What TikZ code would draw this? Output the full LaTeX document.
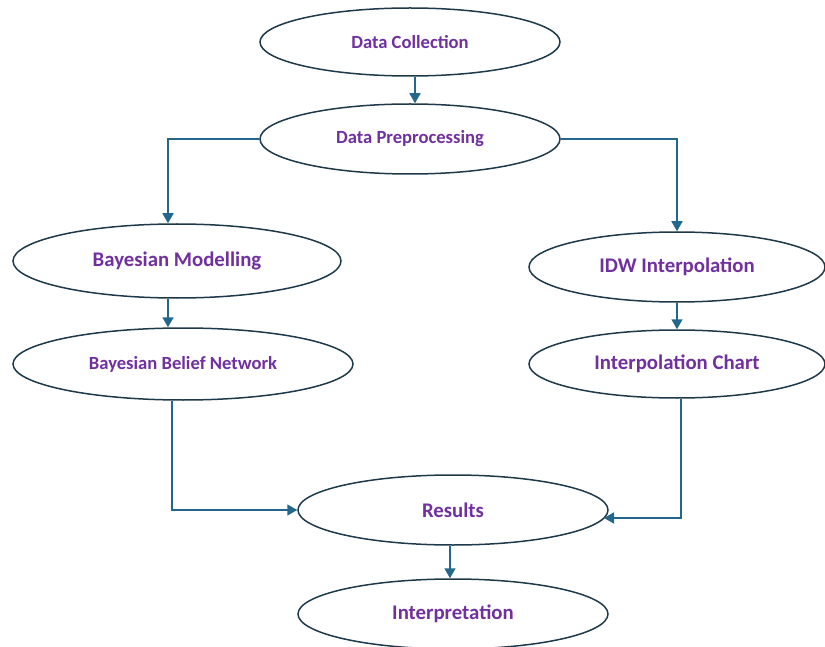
\documentclass[tikz,border=0pt]{standalone}
\usepackage{fontspec}
\setmainfont{Carlito}
\usetikzlibrary{shapes.geometric,arrows.meta}
\definecolor{txtpurple}{HTML}{7030A0}
\definecolor{edgecol}{HTML}{1E3A4A}
\definecolor{arrcol}{HTML}{23688C}
\tikzset{
  stage/.style={ellipse, draw=edgecol, line width=1.5pt, fill=white, inner sep=0pt,
    text=txtpurple, font=\bfseries},
  small/.style={font=\bfseries\fontsize{18.6}{20}\selectfont},
  big/.style={font=\bfseries\fontsize{20.8}{22}\selectfont},
  flow/.style={draw=arrcol, line width=1.6pt, -{Triangle[width=11pt,length=10pt]}},
}
\begin{document}
\begin{tikzpicture}[x=1pt,y=-1pt]
\useasboundingbox (0,0) rectangle (825,647);
\node[stage, small, minimum width=300pt, minimum height=68pt] (dc) at (410,42) {Data Collection};
\node[stage, small, minimum width=300pt, minimum height=70pt] (dp) at (410,139) {Data Preprocessing};
\node[stage, big, minimum width=328pt, minimum height=74pt] (bm) at (177,261) {Bayesian Modelling};
\node[stage, small, minimum width=340pt, minimum height=72pt] (bbn) at (183,364) {Bayesian Belief Network};
\node[stage, big, minimum width=296pt, minimum height=70pt] (idw) at (677,267) {IDW Interpolation};
\node[stage, big, minimum width=296pt, minimum height=68pt] (ic) at (677,364) {Interpolation Chart};
\node[stage, big, minimum width=310pt, minimum height=70pt] (res) at (453,510) {Results};
\node[stage, big, minimum width=310pt, minimum height=70pt] (int) at (453,614) {Interpretation};
\coordinate (xl) at (168,0);
\coordinate (xb) at (172,0);
\coordinate (xr) at (681,0);
\coordinate (resr) at (604,518);
\draw[flow] (dc.south -| {(415,0)}) -- (dp.north -| {(415,0)});
\draw[flow] (dp.west) -| (bm.north -| xl);
\draw[flow] (dp.east) -| (idw.north);
\draw[flow] (bm.south -| xl) -- (bbn.north -| xl);
\draw[flow] (idw.south) -- (ic.north);
\draw[flow] (bbn.south -| xb) |- (res.west);
\draw[flow] (ic.south -| xr) |- (resr);
\draw[flow] (res.south -| {(450,0)}) -- (int.north -| {(450,0)});
\end{tikzpicture}
\end{document}
